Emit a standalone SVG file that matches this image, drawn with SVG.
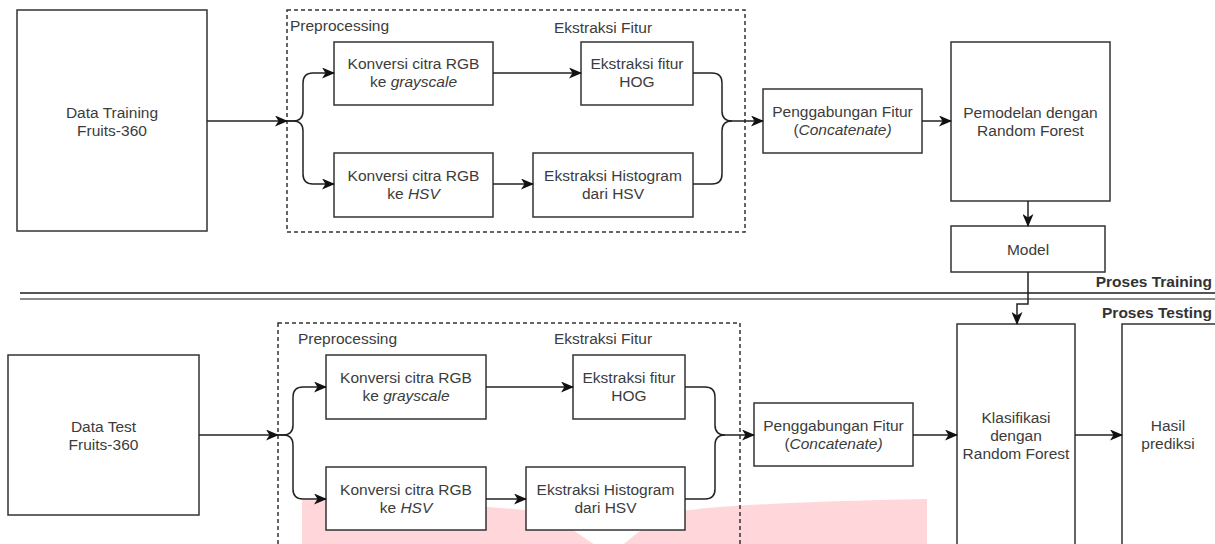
<svg xmlns="http://www.w3.org/2000/svg" width="1215" height="544" viewBox="0 0 1215 544">
<style>
.box{fill:#fff;stroke:#333;stroke-width:1.5}
.grp{fill:none;stroke:#333;stroke-width:1.5;stroke-dasharray:4 3}
.t{font-family:"Liberation Sans",Arial,sans-serif;font-size:15.5px;fill:#3c3c3c;text-anchor:middle}
.l{font-family:"Liberation Sans",Arial,sans-serif;font-size:15.5px;fill:#3c3c3c}
.b{font-family:"Liberation Sans",Arial,sans-serif;font-size:15.5px;font-weight:bold;fill:#333;text-anchor:end}
.c{fill:none;stroke:#222;stroke-width:1.5}
.a{marker-end:url(#arr)}
.i{font-style:italic}
</style>
<defs>
<marker id="arr" viewBox="0 0 13 11" refX="12" refY="5.5" markerWidth="13" markerHeight="11" markerUnits="userSpaceOnUse" orient="auto">
<path d="M0,0 L13,5.5 L0,11 L3.5,5.5 Z" fill="#111"/>
</marker>
</defs>
<rect width="1215" height="544" fill="#fff"/>
<path id="watermark" d="M302,500 Q450,502 546,512 L610,555 L661,514 Q720,503 927,499 L927,560 L302,560 Z" fill="#ffd7da"/>

<g id="separator">
<line x1="20" y1="293" x2="1215" y2="293" stroke="#555" stroke-width="2"/>
<line x1="20" y1="299" x2="1215" y2="299" stroke="#8a8a8a" stroke-width="2"/>
<text class="b" x="1212" y="287">Proses Training</text>
<text class="b" x="1212" y="318">Proses Testing</text>
</g>

<g id="preproc-train">
<rect class="grp" x="287" y="10" width="458" height="222"/>
<text class="l" x="290" y="31">Preprocessing</text>
<text class="t" x="603" y="33">Ekstraksi Fitur</text>
</g>
<g id="preproc-test">
<rect class="grp" x="278" y="323" width="462" height="240"/>
<text class="l" x="298" y="344">Preprocessing</text>
<text class="t" x="603" y="344">Ekstraksi Fitur</text>
</g>

<g id="data-training">
<rect class="box" x="17" y="10" width="190" height="221"/>
<text class="t" x="112" y="118">Data Training</text>
<text class="t" x="112" y="136">Fruits-360</text>
</g>
<g id="gray-train">
<rect class="box" x="334" y="42" width="159" height="63"/>
<text class="t" x="413.5" y="69">Konversi citra RGB</text>
<text class="t" x="413.5" y="87">ke <tspan class="i">grayscale</tspan></text>
</g>
<g id="hog-train">
<rect class="box" x="581" y="42" width="112" height="63"/>
<text class="t" x="637" y="69">Ekstraksi fitur</text>
<text class="t" x="637" y="87">HOG</text>
</g>
<g id="hsv-train">
<rect class="box" x="334" y="153" width="159" height="64"/>
<text class="t" x="413.5" y="180.5">Konversi citra RGB</text>
<text class="t" x="413.5" y="198.5">ke <tspan class="i">HSV</tspan></text>
</g>
<g id="hist-train">
<rect class="box" x="533" y="153" width="160" height="64"/>
<text class="t" x="613" y="180.5">Ekstraksi Histogram</text>
<text class="t" x="613" y="198.5">dari HSV</text>
</g>
<g id="concat-train">
<rect class="box" x="763" y="89" width="159" height="64"/>
<text class="t" x="842.5" y="117">Penggabungan Fitur</text>
<text class="t" x="842.5" y="135">(<tspan class="i">Concatenate)</tspan></text>
</g>
<g id="rf-train">
<rect class="box" x="951" y="42" width="159" height="159"/>
<text class="t" x="1030.5" y="118">Pemodelan dengan</text>
<text class="t" x="1030.5" y="136">Random Forest</text>
</g>
<g id="model">
<rect class="box" x="951" y="226" width="154" height="46"/>
<text class="t" x="1028" y="254.5">Model</text>
</g>

<g id="data-test">
<rect class="box" x="8" y="355" width="191" height="160"/>
<text class="t" x="103.5" y="431.5">Data Test</text>
<text class="t" x="103.5" y="449.5">Fruits-360</text>
</g>
<g id="gray-test">
<rect class="box" x="326" y="355" width="160" height="64"/>
<text class="t" x="406" y="383">Konversi citra RGB</text>
<text class="t" x="406" y="401">ke <tspan class="i">grayscale</tspan></text>
</g>
<g id="hog-test">
<rect class="box" x="573" y="355" width="112" height="64"/>
<text class="t" x="629" y="383">Ekstraksi fitur</text>
<text class="t" x="629" y="401">HOG</text>
</g>
<g id="hsv-test">
<rect class="box" x="326" y="467" width="160" height="63"/>
<text class="t" x="406" y="494.5">Konversi citra RGB</text>
<text class="t" x="406" y="512.5">ke <tspan class="i">HSV</tspan></text>
</g>
<g id="hist-test">
<rect class="box" x="526" y="467" width="159" height="63"/>
<text class="t" x="605.5" y="494.5">Ekstraksi Histogram</text>
<text class="t" x="605.5" y="512.5">dari HSV</text>
</g>
<g id="concat-test">
<rect class="box" x="754" y="403" width="159" height="63"/>
<text class="t" x="833.5" y="430.5">Penggabungan Fitur</text>
<text class="t" x="833.5" y="448.5">(<tspan class="i">Concatenate)</tspan></text>
</g>
<g id="rf-test">
<rect class="box" x="957" y="324" width="118" height="240"/>
<text class="t" x="1016" y="422.5">Klasifikasi</text>
<text class="t" x="1016" y="440.5">dengan</text>
<text class="t" x="1016" y="458.5">Random Forest</text>
</g>
<g id="hasil">
<rect class="box" x="1122" y="324" width="96" height="240"/>
<text class="t" x="1168" y="431">Hasil</text>
<text class="t" x="1168" y="449">prediksi</text>
</g>

<g id="connectors">
<path class="c a" d="M207,121 L287,121"/>
<path class="c a" d="M287,121 L293,121 Q303,121 303,111 L303,83 Q303,73 313,73 L334,73"/>
<path class="c a" d="M287,121 L293,121 Q303,121 303,131 L303,174 Q303,184 313,184 L334,184"/>
<path class="c a" d="M493,73 L581,73"/>
<path class="c a" d="M493,184 L533,184"/>
<path class="c a" d="M693,73 L712,73 Q722,73 722,83 L722,111 Q722,121 732,121 L763,121"/>
<path class="c" d="M693,184 L712,184 Q722,184 722,174 L722,131 Q722,121 732,121"/>
<path class="c a" d="M922,121 L951,121"/>
<path class="c a" d="M1028,201 L1028,226"/>
<path class="c a" d="M1028,272 L1028,304 L1017,304 L1017,324"/>

<path class="c a" d="M199,435 L278,435"/>
<path class="c a" d="M278,435 L283,435 Q293,435 293,425 L293,397 Q293,387 303,387 L326,387"/>
<path class="c a" d="M278,435 L283,435 Q293,435 293,445 L293,489 Q293,499 303,499 L326,499"/>
<path class="c a" d="M486,387 L573,387"/>
<path class="c a" d="M486,499 L526,499"/>
<path class="c a" d="M685,387 L705,387 Q715,387 715,397 L715,425 Q715,435 725,435 L754,435"/>
<path class="c" d="M685,499 L705,499 Q715,499 715,489 L715,445 Q715,435 725,435"/>
<path class="c a" d="M913,435 L957,435"/>
<path class="c a" d="M1075,435 L1122,435"/>
</g>
</svg>
